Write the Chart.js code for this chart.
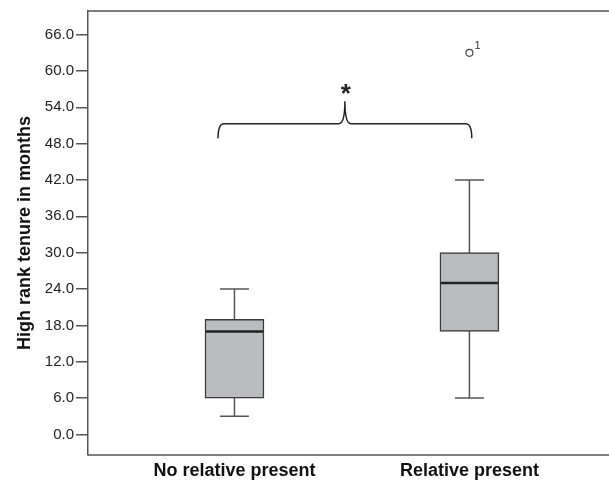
<!DOCTYPE html>
<html>
<head>
<meta charset="utf-8">
<script src="https://cdn.jsdelivr.net/npm/chart.js@4.4.1/dist/chart.umd.min.js"></script>
<style>
    html, body { margin: 0; padding: 0; background: #fff; }
</style>
</head>
<body>
<canvas id="chart-box" width="609" height="481"></canvas>
<script>
// Datos del boxplot
const categories = ['No relative present', 'Relative present'];
const positions = [1, 2];
const whiskerLow = [3, 6];
const q1 = [6, 17];
const medians = [17, 25];
const q3 = [19, 30];
const whiskerHigh = [24, 42];
const outlierX = [2];
const outlierY = [63];
const outlierLabels = ['1'];
const yTicks = [0, 6, 12, 18, 24, 30, 36, 42, 48, 54, 60, 66];

// Llave de significancia entre los dos grupos
const bracketLeft = 0.93;
const bracketRight = 2.01;
const bracketMid = 1.47;
const bracketLevel = 51.3;
const bracketFoot = 48.9;
const bracketPeak = 55;
const signifLabel = '*';

const FONT = "'Liberation Sans', Arial, sans-serif";
const AXIS_COLOR = '#555';
const BOX_WIDTH = 59;
const CAP_WIDTH = 29;

const boxPlugin = {
    id: 'boxExtras',
    beforeDatasetsDraw(chart) {
        const { ctx, chartArea, scales: { x, y } } = chart;
        ctx.save();
        // Marco superior e inferior hasta el borde del lienzo
        ctx.strokeStyle = AXIS_COLOR;
        ctx.lineWidth = 1.5;
        ctx.beginPath();
        ctx.moveTo(chartArea.left, chartArea.top);
        ctx.lineTo(chart.width, chartArea.top);
        ctx.moveTo(chartArea.left, chartArea.bottom);
        ctx.lineTo(chart.width, chartArea.bottom);
        ctx.stroke();

        // Bigotes
        ctx.strokeStyle = '#555';
        ctx.lineWidth = 1.5;
        positions.forEach((p, i) => {
            const px = x.getPixelForValue(p);
            const lo = y.getPixelForValue(whiskerLow[i]);
            const hi = y.getPixelForValue(whiskerHigh[i]);
            ctx.beginPath();
            ctx.moveTo(px, lo);
            ctx.lineTo(px, hi);
            ctx.moveTo(px - CAP_WIDTH / 2, lo);
            ctx.lineTo(px + CAP_WIDTH / 2, lo);
            ctx.moveTo(px - CAP_WIDTH / 2, hi);
            ctx.lineTo(px + CAP_WIDTH / 2, hi);
            ctx.stroke();
        });
        ctx.restore();
    },
    afterDatasetsDraw(chart) {
        const { ctx, scales: { x, y } } = chart;
        ctx.save();
        // Medianas
        ctx.strokeStyle = '#222';
        ctx.lineWidth = 2.5;
        positions.forEach((p, i) => {
            const px = x.getPixelForValue(p);
            const my = y.getPixelForValue(medians[i]);
            ctx.beginPath();
            ctx.moveTo(px - BOX_WIDTH / 2 + 1, my);
            ctx.lineTo(px + BOX_WIDTH / 2 - 1, my);
            ctx.stroke();
        });

        // Etiquetas de atípicos
        ctx.fillStyle = '#333';
        ctx.font = '11px ' + FONT;
        ctx.textAlign = 'left';
        ctx.textBaseline = 'middle';
        outlierX.forEach((ox, i) => {
            ctx.fillText(outlierLabels[i], x.getPixelForValue(ox) + 5, y.getPixelForValue(outlierY[i]) - 7);
        });

        // Llave
        const xl = x.getPixelForValue(bracketLeft);
        const xr = x.getPixelForValue(bracketRight);
        const xm = x.getPixelForValue(bracketMid);
        const yl = y.getPixelForValue(bracketLevel);
        const yf = y.getPixelForValue(bracketFoot);
        const yp = y.getPixelForValue(bracketPeak);
        ctx.strokeStyle = '#222';
        ctx.lineWidth = 1.5;
        ctx.beginPath();
        ctx.moveTo(xl, yf);
        ctx.quadraticCurveTo(xl, yl, xl + 6, yl);
        ctx.lineTo(xm - 6, yl);
        ctx.quadraticCurveTo(xm, yl, xm, yp);
        ctx.quadraticCurveTo(xm, yl, xm + 6, yl);
        ctx.lineTo(xr - 6, yl);
        ctx.quadraticCurveTo(xr, yl, xr, yf);
        ctx.stroke();

        ctx.fillStyle = '#222';
        ctx.font = 'bold 26px ' + FONT;
        ctx.textAlign = 'center';
        ctx.textBaseline = 'alphabetic';
        ctx.fillText(signifLabel, xm + 1, yp + 1);
        ctx.restore();
    }
};

new Chart(document.getElementById('chart-box'), {
    type: 'bar',
    data: {
        datasets: [{
            label: 'Caja',
            data: positions.map((p, i) => ({ x: p, y: [q1[i], q3[i]] })),
            backgroundColor: '#bbbcc0',
            borderColor: '#3a3a3a',
            borderWidth: 1.5,
            borderSkipped: false,
            barThickness: BOX_WIDTH
        }, {
            type: 'line',
            label: 'Atípicos',
            data: outlierX.map((ox, i) => ({ x: ox, y: outlierY[i] })),
            showLine: false,
            pointRadius: 3.5,
            pointBackgroundColor: '#fff',
            pointBorderColor: '#444',
            pointBorderWidth: 1.2
        }]
    },
    options: {
        responsive: false,
        animation: false,
        layout: { padding: { top: 11, right: 0, left: 0, bottom: 0 } },
        plugins: {
            legend: { display: false },
            tooltip: { enabled: false }
        },
        scales: {
            x: {
                type: 'linear',
                min: 0.3766,
                max: 2.572,
                offset: false,
                grid: { display: false, drawTicks: false, offset: false },
                border: { display: false },
                afterBuildTicks: scale => {
                    scale.ticks = positions.map(p => ({ value: p }));
                },
                afterFit: scale => { scale.height = 26; },
                ticks: {
                    padding: 5,
                    color: '#111',
                    font: { family: FONT, size: 18, weight: 'bold' },
                    callback: (value) => categories[positions.indexOf(value)] || ''
                }
            },
            y: {
                min: -3.4,
                max: 69.9,
                grid: {
                    display: true,
                    drawOnChartArea: false,
                    drawTicks: true,
                    tickLength: 12,
                    color: AXIS_COLOR,
                    lineWidth: 1.5
                },
                border: { display: true, color: AXIS_COLOR, width: 1.5 },
                afterBuildTicks: scale => {
                    scale.ticks = yTicks.map(v => ({ value: v }));
                },
                afterFit: scale => { scale.width = 88; },
                ticks: {
                    padding: 2,
                    color: '#222',
                    font: { family: FONT, size: 15 },
                    callback: value => value.toFixed(1)
                },
                title: {
                    display: true,
                    text: 'High rank tenure in months',
                    color: '#111',
                    padding: { top: 14, bottom: 0 },
                    font: { family: FONT, size: 18, weight: 'bold' }
                }
            }
        }
    },
    plugins: [boxPlugin]
});
</script>
</body>
</html>
